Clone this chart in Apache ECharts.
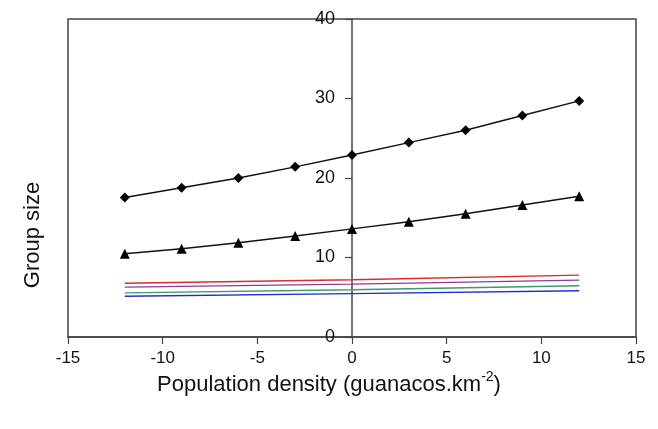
<!DOCTYPE html>
<html>
<head>
<meta charset="utf-8">
<script src="https://cdn.jsdelivr.net/npm/echarts@6/dist/echarts.min.js"></script>
<style>
  html, body { margin: 0; padding: 0; background: #fff; }
  #chart { width: 658px; height: 429px; }
</style>
</head>
<body>
<div id="chart"></div>
<script>
// x positions of the fitted points
const densities = [-12, -9, -6, -3, 0, 3, 6, 9, 12];
const diamondSize = [17.55, 18.77, 20.0, 21.4, 22.9, 24.45, 26.0, 27.85, 29.7];
const triangleSize = [10.48, 11.1, 11.87, 12.7, 13.6, 14.5, 15.5, 16.6, 17.7];

// thin coloured lines, read at left end, middle and right end
const lineX = [-12, 0, 12];
const redLine = [6.77, 7.2, 7.78];
const purpleLine = [6.27, 6.65, 7.15];
const greenLine = [5.55, 5.95, 6.44];
const blueLine = [5.13, 5.45, 5.81];

const pairs = (xs, ys) => xs.map((x, i) => [x, ys[i]]);

const chart = echarts.init(document.getElementById('chart'));
const font = 'Liberation Sans, Arial, sans-serif';

const gridLeft = 68, gridRight = 22;
// move the y axis to x = 0 (middle of the -15..15 range)
const yOffset = -(658 - gridLeft - gridRight) / 2;

const option = {
  animation: false,
  grid: {
    left: gridLeft, right: gridRight, top: 19, bottom: 92,
    show: true,
    borderColor: '#444',
    borderWidth: 1.5
  },
  xAxis: {
    type: 'value',
    min: -15, max: 15, interval: 5,
    axisLine: { onZero: false, lineStyle: { color: '#444', width: 1.5 } },
    axisTick: { length: 7, lineStyle: { color: '#444', width: 1.2 } },
    axisLabel: { color: '#111', fontSize: 17, fontFamily: font, margin: 13 },
    splitLine: { show: false }
  },
  yAxis: {
    type: 'value',
    min: 0, max: 40, interval: 10,
    offset: yOffset,
    axisLine: { show: true, onZero: false, lineStyle: { color: '#444', width: 1.5 } },
    axisTick: { show: true, length: 7, lineStyle: { color: '#444', width: 1.2 } },
    axisLabel: { color: '#111', fontSize: 18, fontFamily: font, margin: 17 },
    splitLine: { show: false }
  },
  series: [
    {
      type: 'line', data: pairs(densities, diamondSize),
      symbol: 'diamond', symbolSize: 10,
      itemStyle: { color: '#000' },
      lineStyle: { color: '#111', width: 1.5 }
    },
    {
      type: 'line', data: pairs(densities, triangleSize),
      symbol: 'triangle', symbolSize: 10,
      itemStyle: { color: '#000' },
      lineStyle: { color: '#111', width: 1.5 }
    },
    { type: 'line', data: pairs(lineX, redLine), showSymbol: false, lineStyle: { color: '#e02828', width: 1.4 } },
    { type: 'line', data: pairs(lineX, purpleLine), showSymbol: false, lineStyle: { color: '#8a3c9c', width: 1.4 } },
    { type: 'line', data: pairs(lineX, greenLine), showSymbol: false, lineStyle: { color: '#3c9a6c', width: 1.4 } },
    { type: 'line', data: pairs(lineX, blueLine), showSymbol: false, lineStyle: { color: '#2828d8', width: 1.4 } }
  ],
  graphic: [
    {
      type: 'text', x: 33, y: 235, rotation: Math.PI / 2,
      style: {
        text: 'Group size', font: '22px ' + font, fill: '#111',
        textAlign: 'center', textVerticalAlign: 'middle'
      }
    },
    {
      type: 'text', left: 'center', top: 370,
      style: {
        text: '{n|Population density (guanacos.km}{s|-2}{n|)}',
        fill: '#111',
        rich: {
          n: { fontSize: 22, fontFamily: font, fill: '#111', lineHeight: 26, verticalAlign: 'bottom' },
          s: { fontSize: 14, fontFamily: font, fill: '#111', lineHeight: 26, verticalAlign: 'top' }
        }
      }
    }
  ]
};

chart.setOption(option);
</script>
</body>
</html>
